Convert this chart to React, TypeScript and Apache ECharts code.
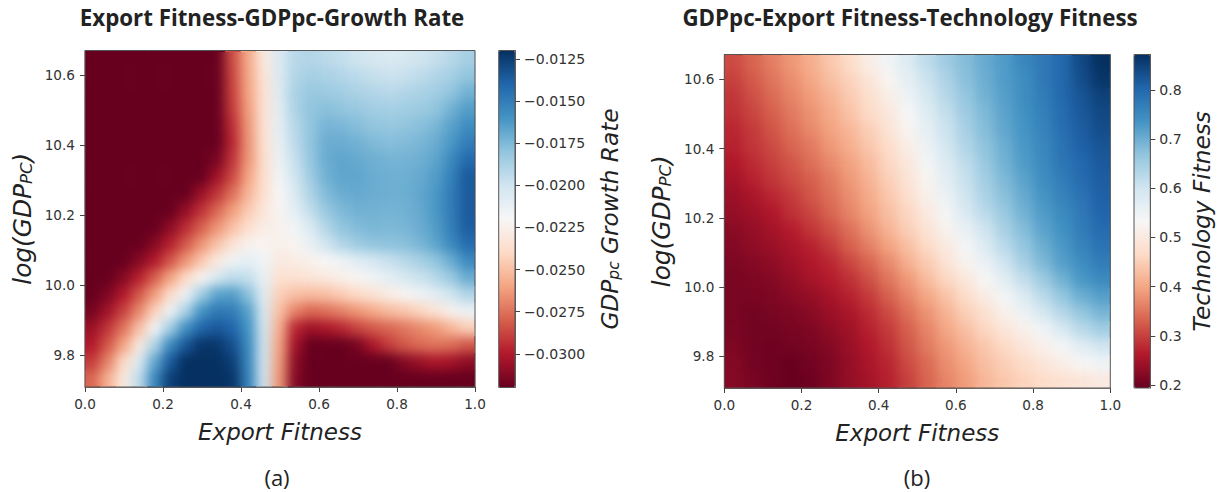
import React, { useEffect, useRef } from "react";
import * as echarts from "echarts";

const RDBU = ["#67001f", "#b2182b", "#d6604d", "#f4a582", "#fddbc7", "#f7f7f7", "#d1e5f0", "#92c5de", "#4393c3", "#2166ac", "#053061"];

// Panel (a): growth rate in thousandths. Rows top to bottom.
const fitnessColsA = [0.02, 0.06, 0.1, 0.14, 0.18, 0.22, 0.26, 0.3, 0.34, 0.38, 0.42, 0.46, 0.5, 0.54, 0.58, 0.62, 0.66, 0.7, 0.74, 0.78, 0.82, 0.86, 0.9, 0.94, 0.98];
const growthRateMilli = [
  [-33, -33, -33, -33, -33, -33, -33, -33, -32, -28.5, -25.8, -23, -20.5, -19.2, -19, -19.3, -19.6, -20, -20.3, -20.5, -20.3, -20, -19.7, -19.2, -18.6],
  [-33, -33, -33, -33, -33, -33, -33, -33, -32, -28.7, -25.9, -23.3, -20.5, -19, -18.6, -18.8, -19, -19.3, -19.6, -19.8, -19.7, -19.4, -19, -18.6, -18],
  [-33, -33, -33, -33, -33, -33, -33, -33, -32, -28.8, -26, -23.5, -20.7, -18.8, -18.2, -18.3, -18.5, -18.8, -19, -19.2, -19, -18.8, -18.5, -18, -17.2],
  [-33, -33, -33, -33, -33, -33, -33, -33, -32, -29, -26.2, -23.5, -20.9, -18.9, -18, -17.8, -18, -18.2, -18.5, -18.6, -18.5, -18.3, -18, -17.2, -16.4],
  [-33, -33, -33, -33, -33, -33, -33, -33, -32, -29.4, -26.4, -23.5, -21, -19.2, -18, -17.3, -17.4, -17.7, -18, -18.1, -18, -17.8, -17.4, -16.6, -15.7],
  [-33, -33, -33, -33, -33, -33, -33, -33, -32, -29.6, -26.5, -23.6, -21.2, -19.4, -18, -17, -17, -17.2, -17.5, -17.7, -17.6, -17.4, -17, -16.2, -15],
  [-33, -33, -33, -33, -33, -33, -33, -32.8, -31.5, -29.2, -26.4, -23.7, -21.4, -19.7, -18.1, -17, -16.7, -16.9, -17.1, -17.3, -17.3, -17.1, -16.7, -15.6, -14.2],
  [-33, -33, -33, -33, -33, -33, -33, -32, -30.5, -28.6, -26, -23.7, -21.7, -20, -18.4, -17.2, -16.7, -16.7, -17, -17.1, -17.1, -16.9, -16.4, -15.2, -13.6],
  [-33, -33, -33, -33, -33, -33, -32, -30.6, -29.2, -27.5, -25.4, -23.6, -22, -20.5, -18.9, -17.6, -17, -16.9, -17, -17.1, -17.1, -16.8, -16.2, -15, -13.6],
  [-33, -33, -33, -33, -33, -32.2, -30.8, -29.3, -27.8, -26.2, -24.6, -23.2, -22.2, -21, -19.5, -18.2, -17.5, -17.2, -17.2, -17.3, -17.2, -16.9, -16.2, -15, -13.6],
  [-33, -33, -33, -33, -32.5, -31, -29.5, -28, -26.5, -25, -23.7, -22.8, -22.4, -21.7, -20.5, -19, -18, -17.6, -17.4, -17.5, -17.4, -17, -16.4, -15.1, -13.7],
  [-33, -33, -33, -32.5, -31.2, -29.8, -28.2, -26.5, -24.9, -23.4, -22.4, -22.2, -22.6, -22.2, -21.2, -20, -19, -18.4, -18, -17.9, -17.8, -17.4, -16.7, -15.6, -14.3],
  [-33, -33, -32.6, -31.2, -30, -28.3, -26.5, -24.7, -23, -21.6, -21, -21.6, -23, -22.8, -22.5, -22, -21.5, -20.8, -20.2, -19.7, -19.2, -18.7, -18, -17, -15.6],
  [-33, -32.6, -31.2, -29.8, -28, -26, -24, -22.2, -20.4, -19.4, -19.6, -21.2, -23.6, -23.6, -23.3, -23, -22.6, -22.2, -21.6, -21, -20.4, -19.8, -19.2, -18.3, -17],
  [-32.6, -31.4, -30, -28.2, -26.2, -23.8, -21.5, -18.5, -16.6, -16.4, -17.8, -20.8, -24.4, -25, -25.2, -25, -24.5, -24, -23.4, -22.8, -22.2, -21.6, -20.9, -20, -19],
  [-31.6, -30.4, -28.8, -26.8, -24.3, -21.5, -18.8, -16, -14.8, -15, -16.5, -20.4, -25, -27, -27.8, -27.5, -27, -26.4, -25.8, -25.2, -24.8, -24.2, -23.4, -22.4, -21.4],
  [-30.6, -29.2, -27.4, -25, -21.8, -18.5, -15.8, -14, -13.5, -14, -16, -20.2, -25.6, -29.6, -30.5, -30.2, -29.6, -28.8, -28.2, -27.8, -27.3, -26.8, -26.3, -25.4, -24.4],
  [-30, -28.2, -26, -23, -19, -15.6, -13.5, -12.2, -12.3, -13.2, -15.6, -20, -26, -30.4, -32.2, -32.3, -32.2, -31.5, -30.2, -29, -28.2, -27.7, -27.4, -27.6, -28.2],
  [-29, -27, -24, -20.6, -16.8, -13.6, -12, -11.5, -11.5, -12.6, -15.4, -20, -26.2, -31, -33, -33, -33, -33, -33, -32.2, -31.2, -30.6, -30.2, -30.4, -31],
  [-27.8, -25.6, -23, -19.5, -15.5, -12.6, -11.4, -11, -11, -12.2, -15.2, -20, -26.4, -31.2, -33, -33, -33, -33, -33, -33, -33, -33, -33, -33, -33],
];

// Panel (b): technology fitness. Rows top to bottom.
const fitnessColsB = [0.025, 0.075, 0.125, 0.175, 0.225, 0.275, 0.325, 0.375, 0.425, 0.475, 0.525, 0.575, 0.625, 0.675, 0.725, 0.775, 0.825, 0.875, 0.925, 0.975];
const technologyFitness = [
  [0.31, 0.335, 0.36, 0.385, 0.41, 0.44, 0.47, 0.51, 0.545, 0.58, 0.62, 0.655, 0.68, 0.705, 0.725, 0.755, 0.775, 0.8, 0.84, 0.88],
  [0.3, 0.325, 0.35, 0.375, 0.4, 0.43, 0.455, 0.49, 0.525, 0.565, 0.605, 0.64, 0.675, 0.7, 0.725, 0.745, 0.775, 0.8, 0.835, 0.865],
  [0.29, 0.315, 0.34, 0.365, 0.39, 0.415, 0.445, 0.475, 0.51, 0.55, 0.59, 0.63, 0.665, 0.695, 0.72, 0.745, 0.77, 0.8, 0.825, 0.85],
  [0.285, 0.305, 0.33, 0.355, 0.38, 0.405, 0.435, 0.465, 0.495, 0.535, 0.575, 0.615, 0.655, 0.685, 0.715, 0.74, 0.765, 0.795, 0.82, 0.84],
  [0.275, 0.295, 0.32, 0.345, 0.37, 0.395, 0.42, 0.45, 0.485, 0.525, 0.565, 0.605, 0.645, 0.68, 0.71, 0.735, 0.76, 0.79, 0.815, 0.835],
  [0.27, 0.29, 0.31, 0.335, 0.355, 0.385, 0.41, 0.44, 0.47, 0.51, 0.55, 0.595, 0.635, 0.67, 0.7, 0.73, 0.755, 0.785, 0.81, 0.825],
  [0.26, 0.28, 0.3, 0.32, 0.345, 0.37, 0.395, 0.425, 0.46, 0.495, 0.54, 0.58, 0.62, 0.66, 0.695, 0.725, 0.75, 0.78, 0.8, 0.82],
  [0.25, 0.27, 0.29, 0.31, 0.33, 0.355, 0.385, 0.415, 0.45, 0.485, 0.525, 0.57, 0.61, 0.65, 0.685, 0.715, 0.745, 0.77, 0.795, 0.815],
  [0.24, 0.255, 0.275, 0.295, 0.32, 0.345, 0.375, 0.405, 0.44, 0.475, 0.515, 0.555, 0.6, 0.64, 0.675, 0.705, 0.735, 0.76, 0.785, 0.81],
  [0.235, 0.245, 0.26, 0.285, 0.305, 0.335, 0.365, 0.395, 0.43, 0.46, 0.5, 0.54, 0.585, 0.625, 0.66, 0.695, 0.725, 0.75, 0.775, 0.805],
  [0.225, 0.235, 0.25, 0.265, 0.29, 0.315, 0.345, 0.38, 0.415, 0.45, 0.485, 0.52, 0.56, 0.6, 0.645, 0.68, 0.715, 0.74, 0.77, 0.795],
  [0.22, 0.23, 0.24, 0.255, 0.27, 0.295, 0.33, 0.36, 0.395, 0.43, 0.465, 0.5, 0.54, 0.58, 0.625, 0.665, 0.7, 0.73, 0.76, 0.785],
  [0.215, 0.22, 0.23, 0.245, 0.26, 0.275, 0.305, 0.335, 0.37, 0.41, 0.445, 0.485, 0.52, 0.555, 0.6, 0.645, 0.685, 0.72, 0.745, 0.77],
  [0.21, 0.215, 0.22, 0.235, 0.25, 0.265, 0.285, 0.315, 0.35, 0.385, 0.425, 0.46, 0.495, 0.53, 0.57, 0.615, 0.655, 0.695, 0.73, 0.75],
  [0.21, 0.21, 0.215, 0.225, 0.235, 0.25, 0.27, 0.295, 0.33, 0.365, 0.4, 0.435, 0.47, 0.505, 0.54, 0.58, 0.625, 0.665, 0.7, 0.72],
  [0.21, 0.205, 0.21, 0.215, 0.225, 0.24, 0.255, 0.28, 0.31, 0.345, 0.38, 0.415, 0.45, 0.48, 0.515, 0.55, 0.59, 0.63, 0.665, 0.69],
  [0.21, 0.205, 0.205, 0.21, 0.215, 0.23, 0.245, 0.27, 0.295, 0.33, 0.365, 0.4, 0.43, 0.46, 0.49, 0.515, 0.545, 0.585, 0.625, 0.65],
  [0.215, 0.205, 0.2, 0.205, 0.21, 0.22, 0.24, 0.26, 0.285, 0.32, 0.355, 0.385, 0.415, 0.44, 0.465, 0.49, 0.515, 0.54, 0.57, 0.6],
  [0.22, 0.205, 0.2, 0.195, 0.205, 0.215, 0.235, 0.255, 0.275, 0.31, 0.34, 0.375, 0.4, 0.43, 0.45, 0.47, 0.49, 0.51, 0.53, 0.545],
  [0.22, 0.21, 0.2, 0.195, 0.2, 0.215, 0.235, 0.25, 0.27, 0.3, 0.335, 0.365, 0.39, 0.42, 0.44, 0.455, 0.47, 0.48, 0.49, 0.5],
];

const gdpRows = ["r0", "r1", "r2", "r3", "r4", "r5", "r6", "r7", "r8", "r9", "r10", "r11", "r12", "r13", "r14", "r15", "r16", "r17", "r18", "r19"];
const fitnessTicks = [0, 0.2, 0.4, 0.6, 0.8, 1.0];
const gdpTicks = [9.8, 10.0, 10.2, 10.4, 10.6];
const growthTicks = [-0.03, -0.0275, -0.025, -0.0225, -0.02, -0.0175, -0.015, -0.0125];
const techTicks = [0.2, 0.3, 0.4, 0.5, 0.6, 0.7, 0.8];
const growthRange = [-0.032, -0.012];
const techRange = [0.194, 0.872];
const growthRate = growthRateMilli.map((r) => r.map((v) => v / 1000));

const W = 1220, H = 492;
const PA = { left: 85, top: 50.5, width: 390, height: 336.5 };
const CA = { left: 498.7, top: 50.5, width: 16.3, height: 337 };
const PB = { left: 724.3, top: 54.5, width: 386, height: 333.5 };
const CB = { left: 1134, top: 54.5, width: 16.3, height: 333.5 };
const TICK_FONT = "DejaVu Sans";
const BLUR = 6;

const cells = (m: number[][]) => m.flatMap((row, r) => row.map((v, c) => [c, r, v]));

const richName = {
  a: { fontFamily: TICK_FONT, fontStyle: "italic", fontSize: 23.2, color: "#222" },
  b: { fontFamily: TICK_FONT, fontStyle: "italic", fontSize: 15.5, color: "#222", padding: [9, 0, 0, 0] },
};
const richLog = {
  a: { ...richName.a, fontSize: 24.8 },
  b: { ...richName.b, fontSize: 16.5 },
};

function mainOption() {
  const line = { show: true, onZero: false, lineStyle: { color: "#666", width: 1 } };
  const tick = { show: true, length: 5, lineStyle: { color: "#444", width: 1 } };
  const label = { fontFamily: TICK_FONT, fontSize: 13.6, color: "#333", margin: 10 };
  const fx = (gi: number) => ({
    type: "value", gridIndex: gi, position: "bottom", min: 0, max: 1, splitLine: { show: false },
    axisLine: line, axisTick: { ...tick, customValues: fitnessTicks },
    axisLabel: { ...label, customValues: fitnessTicks, formatter: (v: number) => v.toFixed(1) },
    name: "Export Fitness", nameLocation: "middle", nameGap: 33,
    nameTextStyle: { fontFamily: TICK_FONT, fontStyle: "italic", fontSize: 23, color: "#222" },
  });
  const fy = (gi: number, min: number, max: number) => ({
    type: "value", gridIndex: gi, position: "left", min, max, splitLine: { show: false },
    axisLine: line, axisTick: { ...tick, customValues: gdpTicks },
    axisLabel: { ...label, customValues: gdpTicks, formatter: (v: number) => v.toFixed(1) },
    name: "{a|log(GDP}{b|PC}{a|)}", nameLocation: "middle", nameGap: 50, nameRotate: 90,
    nameTextStyle: { rich: richLog },
  });
  const cy = (gi: number, r: number[], ticks: number[], fmt: (v: number) => string, name: string, gap: number) => ({
    type: "value", gridIndex: gi, position: "right", min: r[0], max: r[1], splitLine: { show: false },
    axisLine: line, axisTick: { ...tick, customValues: ticks },
    axisLabel: { ...label, fontSize: 14.1, margin: 9, customValues: ticks, formatter: fmt },
    name, nameLocation: "middle", nameGap: gap, nameRotate: 90,
    nameTextStyle: { rich: richName },
  });
  const titleFont = { fontFamily: "Open Sans", fontWeight: 700, fontSize: 22.3, color: "#222" };
  const capFont = { fontFamily: "Open Sans", fontWeight: 400, fontSize: 22, color: "#222" };
  const frame = (r: any) => ({
    type: "rect", silent: true, z: 100,
    shape: { x: r.left, y: r.top, width: r.width, height: r.height },
    style: { fill: "none", stroke: "#555", lineWidth: 1 },
  });
  return {
    animation: false,
    backgroundColor: "#fff",
    title: [
      { text: "Export Fitness-GDPpc-Growth Rate", left: 267, top: 1, textAlign: "center", textStyle: titleFont },
      { text: "GDPpc-Export Fitness-Technology Fitness", left: 905, top: 1, textAlign: "center", textStyle: titleFont },
      { text: "(a)", left: 272, top: 461, textAlign: "center", textStyle: capFont },
      { text: "(b)", left: 912, top: 461, textAlign: "center", textStyle: capFont },
    ],
    grid: [
      { ...PA, containLabel: false },
      { ...CA, containLabel: false },
      { ...PB, containLabel: false },
      { ...CB, containLabel: false },
    ],
    xAxis: [
      { type: "category", gridIndex: 0, position: "top", data: fitnessColsA, show: false },
      fx(0),
      { type: "category", gridIndex: 2, position: "top", data: fitnessColsB, show: false },
      fx(2),
      { type: "value", gridIndex: 1, min: 0, max: 1, show: false },
      { type: "value", gridIndex: 3, min: 0, max: 1, show: false },
    ],
    yAxis: [
      { type: "category", gridIndex: 0, position: "right", data: gdpRows, inverse: true, show: false },
      fy(0, 9.709, 10.671),
      { type: "category", gridIndex: 2, position: "right", data: gdpRows, inverse: true, show: false },
      fy(2, 9.708, 10.672),
      cy(1, growthRange, growthTicks, (v) => "\u2212" + Math.abs(v).toFixed(4), "{a|GDP}{b|pc}{a| Growth Rate}", 82),
      cy(3, techRange, techTicks, (v) => v.toFixed(1), "{a|Technology Fitness}", 40),
    ],
    visualMap: [
      { type: "continuous", seriesIndex: 0, min: growthRange[0], max: growthRange[1], left: CA.left, top: CA.top, itemWidth: CA.width, itemHeight: CA.height, padding: 0, calculable: false, hoverLink: false, inRange: { color: RDBU } },
      { type: "continuous", seriesIndex: 1, min: techRange[0], max: techRange[1], left: CB.left, top: CB.top, itemWidth: CB.width, itemHeight: CB.height, padding: 0, calculable: false, hoverLink: false, inRange: { color: RDBU } },
    ],
    series: [
      { type: "heatmap", xAxisIndex: 0, yAxisIndex: 0, data: cells(growthRate), progressive: 0 },
      { type: "heatmap", xAxisIndex: 2, yAxisIndex: 2, data: cells(technologyFitness), progressive: 0 },
    ],
    graphic: [frame(PA), frame(CA), frame(PB), frame(CB)],
  };
}

// Same read values, drawn again with a one-cell edge repeat so a CSS blur can soften the cell steps.
function softOption(m: number[][], cols: number[], range: number[]) {
  const pad = (row: any[]) => [row[0], ...row, row[row.length - 1]];
  const padded = [m[0], ...m, m[m.length - 1]].map(pad);
  return {
    animation: false,
    grid: { left: 0, right: 0, top: 0, bottom: 0 },
    xAxis: { type: "category", data: pad(cols), show: false },
    yAxis: { type: "category", data: ["top", ...gdpRows, "bottom"], inverse: true, show: false },
    visualMap: { type: "continuous", show: false, min: range[0], max: range[1], inRange: { color: RDBU } },
    series: [{ type: "heatmap", data: cells(padded), progressive: 0 }],
  };
}

function SoftPlot({ rect, m, cols, range }: { rect: any; m: number[][]; cols: number[]; range: number[] }) {
  const ref = useRef<HTMLDivElement>(null);
  const cw = rect.width / cols.length;
  const ch = rect.height / m.length;
  useEffect(() => {
    const c = echarts.init(ref.current!, undefined, { renderer: "svg" });
    c.setOption(softOption(m, cols, range) as any);
    return () => c.dispose();
  }, []);
  return (
    <div style={{ position: "absolute", left: rect.left + 1, top: rect.top + 1, width: rect.width - 2, height: rect.height - 2, overflow: "hidden" }}>
      <div ref={ref} style={{ position: "absolute", left: -cw - 1, top: -ch - 1, width: rect.width + 2 * cw, height: rect.height + 2 * ch, filter: `blur(${BLUR}px)` }} />
    </div>
  );
}

export default function App() {
  const ref = useRef<HTMLDivElement>(null);
  useEffect(() => {
    const c = echarts.init(ref.current!, undefined, { renderer: "svg" });
    c.setOption(mainOption() as any);
    return () => c.dispose();
  }, []);
  return (
    <div style={{ position: "absolute", left: 0, top: 0, width: W, height: H, overflow: "hidden", background: "#fff" }}>
      <div ref={ref} style={{ position: "absolute", left: 0, top: 0, width: W, height: H }} />
      <SoftPlot rect={PA} m={growthRate} cols={fitnessColsA} range={growthRange} />
      <SoftPlot rect={PB} m={technologyFitness} cols={fitnessColsB} range={techRange} />
    </div>
  );
}
